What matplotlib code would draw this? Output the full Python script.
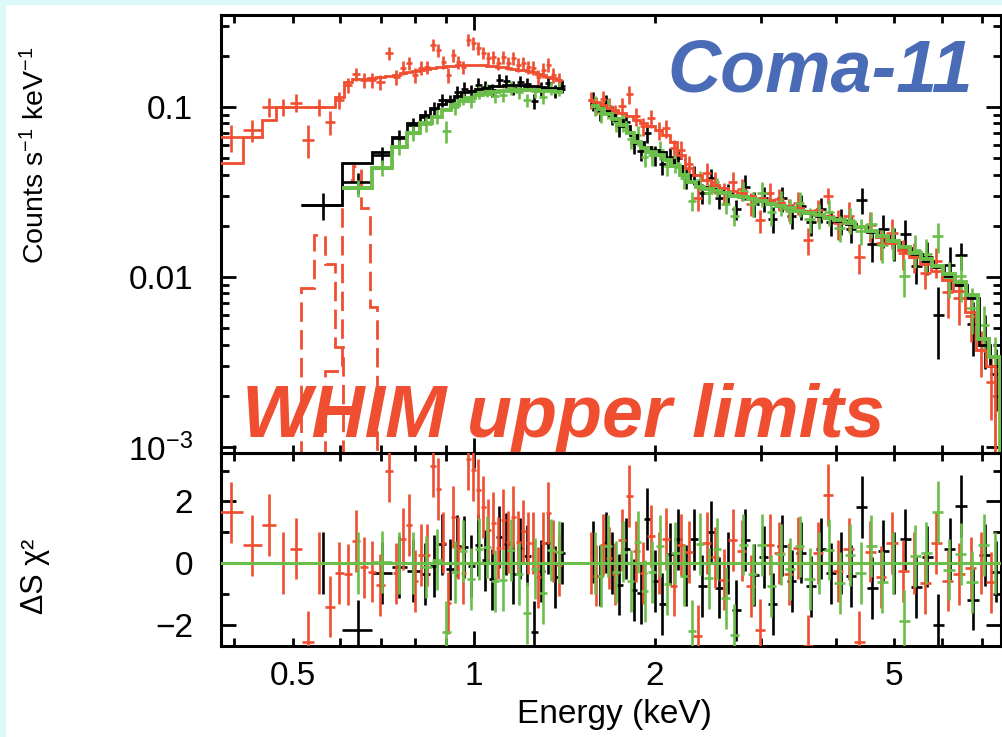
import numpy as np
import matplotlib.pyplot as plt
from matplotlib.patches import Rectangle
from matplotlib.ticker import FixedLocator, FixedFormatter, NullFormatter, LogLocator

plt.rcParams['font.family'] = ['Liberation Sans', 'DejaVu Sans']
plt.rcParams['mathtext.fontset'] = 'custom'
plt.rcParams['mathtext.rm'] = 'Liberation Sans'
plt.rcParams['mathtext.it'] = 'Liberation Sans:italic'
plt.rcParams['mathtext.bf'] = 'Liberation Sans:bold'

RED = '#f04e30'
GREEN = '#6cbe4b'
BLACK = '#000000'
BLUE = '#4a6bb5'

# ---- soft band (below the 1.4-1.55 keV gap) ----
# bin edges (keV), count rate, relative error, model rate
red_soft_edges = [0.378, 0.413, 0.444, 0.469, 0.494, 0.519, 0.542, 0.565, 0.587, 0.608,
                  0.627, 0.646, 0.666, 0.687, 0.711, 0.733, 0.753, 0.771, 0.789, 0.807,
                  0.826, 0.845, 0.865, 0.881, 0.899, 0.916, 0.933, 0.951, 0.970, 0.989,
                  1.008, 1.027, 1.047, 1.067, 1.088, 1.109, 1.130, 1.152, 1.175, 1.197,
                  1.220, 1.244, 1.268, 1.293, 1.318, 1.343, 1.369, 1.401]
red_soft_rate = [0.0667, 0.0733, 0.100, 0.100, 0.106, 0.064, 0.100, 0.0816, 0.110, 0.135,
                 0.156, 0.144, 0.144, 0.140, 0.208, 0.150, 0.170, 0.181, 0.154, 0.170,
                 0.172, 0.232, 0.216, 0.184, 0.154, 0.202, 0.184, 0.172, 0.248, 0.238,
                 0.222, 0.208, 0.194, 0.197, 0.181, 0.197, 0.181, 0.194, 0.177, 0.181,
                 0.172, 0.170, 0.150, 0.165, 0.177, 0.154, 0.144]
red_soft_rel = [0.18, 0.15, 0.13, 0.12, 0.12, 0.22, 0.12, 0.16, 0.11, 0.10,
                0.09, 0.10, 0.10, 0.10, 0.09, 0.10, 0.09, 0.09, 0.10, 0.09,
                0.09, 0.085, 0.085, 0.09, 0.10, 0.09, 0.09, 0.09, 0.085, 0.085,
                0.085, 0.085, 0.09, 0.09, 0.09, 0.09, 0.09, 0.09, 0.09, 0.09,
                0.09, 0.09, 0.10, 0.10, 0.09, 0.10, 0.10]
red_soft_model = [0.047, 0.067, 0.084, 0.100, 0.100, 0.100, 0.100, 0.100, 0.114, 0.140,
                  0.146, 0.146, 0.148, 0.150, 0.152, 0.155, 0.158, 0.161, 0.163, 0.166,
                  0.168, 0.170, 0.172, 0.173, 0.174, 0.175, 0.176, 0.177, 0.177, 0.177,
                  0.177, 0.176, 0.175, 0.174, 0.173, 0.172, 0.170, 0.168, 0.166, 0.164,
                  0.162, 0.160, 0.157, 0.154, 0.151, 0.148, 0.145]

black_soft_edges = [0.517, 0.605, 0.677, 0.731, 0.774, 0.813, 0.845, 0.871, 0.899, 0.926,
                    0.951, 0.977, 1.004, 1.031, 1.059, 1.088, 1.118, 1.148, 1.179, 1.211,
                    1.244, 1.278, 1.313, 1.348, 1.385, 1.417]
black_soft_rate = [0.0265, 0.036, 0.052, 0.066, 0.078, 0.087, 0.097, 0.110, 0.108, 0.122,
                   0.128, 0.124, 0.135, 0.131, 0.126, 0.144, 0.142, 0.130, 0.140, 0.136,
                   0.108, 0.128, 0.138, 0.124, 0.132]
black_soft_rel = [0.18, 0.14, 0.12, 0.11, 0.10, 0.10, 0.10, 0.09, 0.09, 0.09,
                  0.09, 0.09, 0.09, 0.09, 0.09, 0.09, 0.09, 0.09, 0.09, 0.09,
                  0.10, 0.09, 0.09, 0.09, 0.09]
black_soft_model = [0.0265, 0.047, 0.054, 0.067, 0.080, 0.090, 0.098, 0.104, 0.110, 0.116,
                    0.122, 0.125, 0.128, 0.130, 0.132, 0.133, 0.134, 0.134, 0.134, 0.133,
                    0.132, 0.131, 0.130, 0.129, 0.128]

green_soft_edges = [0.605, 0.677, 0.731, 0.774, 0.813, 0.851, 0.885, 0.916, 0.944, 0.974,
                    1.004, 1.035, 1.067, 1.101, 1.135, 1.170, 1.207, 1.244, 1.283, 1.323,
                    1.364, 1.406]
green_soft_rate = [0.0334, 0.044, 0.058, 0.070, 0.079, 0.088, 0.072, 0.100, 0.113, 0.108,
                   0.122, 0.126, 0.116, 0.118, 0.130, 0.122, 0.110, 0.124, 0.115, 0.129,
                   0.127]
green_soft_rel = [0.12, 0.11, 0.10, 0.10, 0.10, 0.10, 0.15, 0.10, 0.09, 0.09,
                  0.09, 0.09, 0.09, 0.09, 0.09, 0.09, 0.09, 0.09, 0.09, 0.09,
                  0.09]
green_soft_model = [0.0334, 0.0438, 0.058, 0.070, 0.080, 0.087, 0.096, 0.103, 0.109, 0.113,
                    0.117, 0.120, 0.122, 0.124, 0.125, 0.126, 0.126, 0.126, 0.125, 0.124,
                    0.123]

# ---- hard band (above the gap) ----
red_hard_edges = [1.55, 1.58, 1.62, 1.66, 1.70, 1.74, 1.79, 1.84, 1.89, 1.94,
                  2.00, 2.06, 2.12, 2.18, 2.25, 2.32, 2.40, 2.48, 2.56, 2.65,
                  2.74, 2.84, 2.94, 3.05, 3.16, 3.28, 3.40, 3.53, 3.67, 3.81,
                  3.96, 4.12, 4.29, 4.47, 4.66, 4.86, 5.07, 5.29, 5.52, 5.76,
                  6.01, 6.28, 6.56, 6.86, 7.12, 7.36]
red_hard_rate = [0.110, 0.102, 0.111, 0.101, 0.092, 0.101, 0.119, 0.088, 0.077, 0.086,
                 0.073, 0.075, 0.057, 0.056, 0.046, 0.029, 0.041, 0.036, 0.031, 0.036,
                 0.033, 0.027, 0.0215, 0.031, 0.0286, 0.0250, 0.0274, 0.0165, 0.0248, 0.030,
                 0.0207, 0.0229, 0.0131, 0.0201, 0.0158, 0.0182, 0.0138, 0.0132, 0.0106, 0.0124,
                 0.0082, 0.0075, 0.0059, 0.0037, 0.0024]
red_hard_rel = [0.12, 0.12, 0.12, 0.12, 0.12, 0.12, 0.12, 0.12, 0.12, 0.12,
                0.12, 0.12, 0.12, 0.12, 0.12, 0.16, 0.15, 0.15, 0.15, 0.15,
                0.15, 0.15, 0.16, 0.15, 0.15, 0.15, 0.15, 0.18, 0.15, 0.11,
                0.20, 0.20, 0.20, 0.20, 0.20, 0.20, 0.20, 0.20, 0.20, 0.20,
                0.30, 0.30, 0.30, 0.30, 0.40]
red_hard_model = [0.110, 0.107, 0.103, 0.099, 0.096, 0.092, 0.088, 0.084, 0.080, 0.077,
                  0.073, 0.068, 0.062, 0.052, 0.044, 0.040, 0.037, 0.035, 0.0335, 0.032,
                  0.0310, 0.0300, 0.0290, 0.0282, 0.0272, 0.0263, 0.0254, 0.0245, 0.0236, 0.0227,
                  0.0218, 0.0208, 0.0198, 0.0186, 0.0172, 0.0158, 0.0145, 0.0132, 0.0120, 0.0108,
                  0.0096, 0.0083, 0.0062, 0.0037, 0.0030]

black_hard_edges = [1.56, 1.60, 1.64, 1.68, 1.72, 1.77, 1.82, 1.87, 1.92, 1.97,
                    2.03, 2.09, 2.15, 2.22, 2.29, 2.36, 2.44, 2.52, 2.60, 2.69,
                    2.78, 2.88, 2.98, 3.09, 3.20, 3.32, 3.44, 3.57, 3.71, 3.85,
                    4.00, 4.16, 4.33, 4.51, 4.70, 4.90, 5.11, 5.33, 5.56, 5.80,
                    6.06, 6.33, 6.62, 6.92, 7.23, 7.55]
black_hard_rate = [0.109, 0.095, 0.104, 0.090, 0.077, 0.082, 0.061, 0.055, 0.070, 0.052,
                   0.046, 0.051, 0.050, 0.038, 0.040, 0.031, 0.038, 0.029, 0.031, 0.025,
                   0.034, 0.027, 0.029, 0.022, 0.029, 0.023, 0.026, 0.021, 0.025, 0.021,
                   0.0214, 0.0192, 0.0284, 0.0157, 0.0191, 0.0160, 0.0178, 0.0116, 0.0131, 0.0060,
                   0.0117, 0.0135, 0.0053, 0.0044, 0.0027]
black_hard_rel = [0.13, 0.13, 0.13, 0.13, 0.13, 0.13, 0.13, 0.13, 0.12, 0.13,
                  0.13, 0.13, 0.13, 0.13, 0.13, 0.13, 0.13, 0.13, 0.13, 0.13,
                  0.17, 0.17, 0.17, 0.17, 0.17, 0.17, 0.17, 0.17, 0.17, 0.17,
                  0.17, 0.17, 0.17, 0.22, 0.22, 0.22, 0.22, 0.22, 0.22, 0.45,
                  0.28, 0.18, 0.35, 0.35, 0.40]
black_hard_model = [0.104, 0.100, 0.095, 0.090, 0.084, 0.077, 0.068, 0.062, 0.058, 0.056,
                    0.054, 0.049, 0.045, 0.040, 0.036, 0.034, 0.033, 0.032, 0.031, 0.030,
                    0.0297, 0.0288, 0.0280, 0.0270, 0.0262, 0.0253, 0.0245, 0.0237, 0.0230, 0.0222,
                    0.0214, 0.0206, 0.0196, 0.0185, 0.0174, 0.0160, 0.0148, 0.0136, 0.0125, 0.0114,
                    0.0102, 0.0090, 0.0075, 0.0040, 0.0030]

green_hard_edges = [1.57, 1.61, 1.65, 1.70, 1.75, 1.80, 1.85, 1.90, 1.95, 2.01,
                    2.07, 2.13, 2.20, 2.27, 2.34, 2.42, 2.50, 2.58, 2.67, 2.76,
                    2.86, 2.96, 3.07, 3.18, 3.30, 3.42, 3.55, 3.69, 3.83, 3.98,
                    4.14, 4.31, 4.49, 4.68, 4.88, 5.09, 5.31, 5.54, 5.78, 6.04,
                    6.31, 6.60, 6.90, 7.21, 7.50]
green_hard_rate = [0.102, 0.092, 0.098, 0.082, 0.082, 0.065, 0.068, 0.051, 0.052, 0.056,
                   0.045, 0.047, 0.038, 0.028, 0.037, 0.031, 0.034, 0.027, 0.023, 0.032,
                   0.027, 0.031, 0.024, 0.0275, 0.0246, 0.0271, 0.0219, 0.0231, 0.0241, 0.0194,
                   0.0217, 0.0187, 0.0205, 0.0154, 0.0162, 0.0102, 0.0145, 0.0137, 0.0174, 0.0099,
                   0.0102, 0.0066, 0.0052, 0.0034]
green_hard_rel = [0.13, 0.13, 0.13, 0.13, 0.13, 0.13, 0.13, 0.13, 0.13, 0.13,
                  0.13, 0.13, 0.13, 0.13, 0.13, 0.13, 0.13, 0.13, 0.13, 0.13,
                  0.17, 0.17, 0.17, 0.17, 0.17, 0.17, 0.17, 0.17, 0.17, 0.17,
                  0.17, 0.17, 0.17, 0.22, 0.22, 0.25, 0.22, 0.22, 0.20, 0.24,
                  0.30, 0.30, 0.30, 0.30]
green_hard_model = [0.102, 0.097, 0.091, 0.085, 0.078, 0.070, 0.062, 0.057, 0.054, 0.052,
                    0.049, 0.045, 0.040, 0.036, 0.034, 0.033, 0.032, 0.031, 0.030, 0.0295,
                    0.0287, 0.0279, 0.0270, 0.0262, 0.0254, 0.0246, 0.0238, 0.0231, 0.0223, 0.0215,
                    0.0207, 0.0197, 0.0186, 0.0175, 0.0162, 0.0150, 0.0138, 0.0127, 0.0116, 0.0104,
                    0.0093, 0.0078, 0.0043, 0.0034]

# WHIM emission components (upper limits), dashed
whim_a_edges = [0.49, 0.517, 0.543, 0.565, 0.587, 0.607, 0.64]
whim_a_model = [1e-6, 0.0086, 0.0177, 0.0120, 0.0039, 1e-6]
whim_b_edges = [0.54, 0.565, 0.605, 0.63, 0.65, 0.672, 0.69, 0.72]
whim_b_model = [1e-6, 0.0028, 0.037, 0.045, 0.0254, 0.0067, 1e-6]

model_floor = 1e-6
tail_edge = 8.0

fig = plt.figure(figsize=(10.02, 7.37), dpi=100)
fig.patches.append(Rectangle((0, 0), 5 / 1002, 1, transform=fig.transFigure,
                             color='#dcf8f8', zorder=-5))
fig.patches.append(Rectangle((0, 1 - 4 / 737), 1, 4 / 737, transform=fig.transFigure,
                             color='#dcf8f8', zorder=-5))

ax = fig.add_axes([0.2206, 0.3853, 0.7789, 0.5939])
axr = fig.add_axes([0.2206, 0.1235, 0.7789, 0.2618], sharex=ax)


def draw_segment(edges, rate, rel, model, color, lw_model, tail=False):
    e = np.array(edges)
    r = np.array(rate)
    m = np.array(model)
    c = 0.5 * (e[:-1] + e[1:])
    xe = [c - e[:-1], e[1:] - c]
    err = np.array(rel) * r
    ax.errorbar(c, r, xerr=xe, yerr=err, fmt='none', ecolor=color,
                elinewidth=1.9, capsize=0, zorder=3)
    if tail:
        m = np.append(m, model_floor)
        e = np.append(e, tail_edge)
    ax.stairs(m, e, baseline=None, color=color, lw=lw_model, zorder=4)
    res = (r - np.array(model)) / err
    axr.errorbar(c, res, xerr=xe, yerr=np.ones_like(res), fmt='none', ecolor=color,
                 elinewidth=1.9, capsize=0, zorder=3)


draw_segment(black_soft_edges, black_soft_rate, black_soft_rel, black_soft_model, BLACK, 2.0)
draw_segment(black_hard_edges, black_hard_rate, black_hard_rel, black_hard_model, BLACK, 2.0)
draw_segment(red_soft_edges, red_soft_rate, red_soft_rel, red_soft_model, RED, 2.0)
draw_segment(red_hard_edges, red_hard_rate, red_hard_rel, red_hard_model, RED, 2.0, tail=True)
draw_segment(green_soft_edges, green_soft_rate, green_soft_rel, green_soft_model, GREEN, 2.8)
draw_segment(green_hard_edges, green_hard_rate, green_hard_rel, green_hard_model, GREEN, 2.8, tail=True)

ax.stairs(whim_a_model, whim_a_edges, baseline=None, color=RED, lw=2.0,
          linestyle=(0, (7, 3)), zorder=2)
ax.stairs(whim_b_model, whim_b_edges, baseline=None, color=RED, lw=2.0,
          linestyle=(0, (7, 3)), zorder=2)

axr.axhline(0, color=GREEN, lw=2.2, zorder=5)

# axes, scales, ticks
ax.set_xscale('log')
ax.set_yscale('log')
ax.set_xlim(0.38, 7.55)
ax.set_ylim(0.000922, 0.346)
axr.set_ylim(-2.69, 3.57)

ax.xaxis.set_major_locator(FixedLocator([1]))
ax.xaxis.set_minor_locator(FixedLocator([0.4, 0.5, 0.6, 0.7, 0.8, 0.9, 2, 3, 4, 5, 6, 7]))
ax.xaxis.set_major_formatter(FixedFormatter(['1']))
ax.xaxis.set_minor_formatter(FixedFormatter(['', '0.5', '', '', '', '', '2', '', '', '5', '', '']))

ax.yaxis.set_major_locator(FixedLocator([1e-3, 1e-2, 1e-1]))
ax.yaxis.set_major_formatter(FixedFormatter(['10$^{-3}$', '0.01', '0.1']))
ax.yaxis.set_minor_locator(LogLocator(base=10, subs=(2, 3, 4, 5, 6, 7, 8, 9)))
ax.yaxis.set_minor_formatter(NullFormatter())

axr.yaxis.set_major_locator(FixedLocator([-2, 0, 2]))
axr.yaxis.set_minor_locator(FixedLocator([-1, 1, 3]))

for a in (ax, axr):
    a.tick_params(which='both', direction='in', top=True, right=True, width=2.0,
                  labelsize=24)
    a.tick_params(which='major', length=11)
    a.tick_params(which='minor', length=5.5)
    a.tick_params(axis='y', which='both', pad=20)
    a.tick_params(axis='x', which='both', pad=11)
    for s in a.spines.values():
        s.set_linewidth(2.2)
    a.set_facecolor('none')

ax.tick_params(which='both', labelbottom=False)

fig.text(36 / 1002, 1 - 155 / 737, 'Counts s$^{-1}$ keV$^{-1}$', rotation=90,
         ha='center', va='center', fontsize=20.5)
fig.text(35 / 1002, 1 - 576 / 737, 'ΔS χ²', rotation=90, ha='center', va='center',
         fontsize=22)
fig.text(614 / 1002, 1 - 714 / 737, 'Energy (keV)', ha='center', va='center', fontsize=24)

fig.text(973 / 1002, 1 - 92 / 737, 'Coma-11', ha='right', va='baseline', fontsize=53,
         fontweight='bold', fontstyle='italic', color=BLUE, zorder=10)
fig.text(242 / 1002, 1 - 437 / 737, 'WHIM upper limits', ha='left', va='baseline',
         fontsize=53, fontweight='bold', fontstyle='italic', color=RED, zorder=10)

fig.savefig('out.png', dpi=100, facecolor='white')
